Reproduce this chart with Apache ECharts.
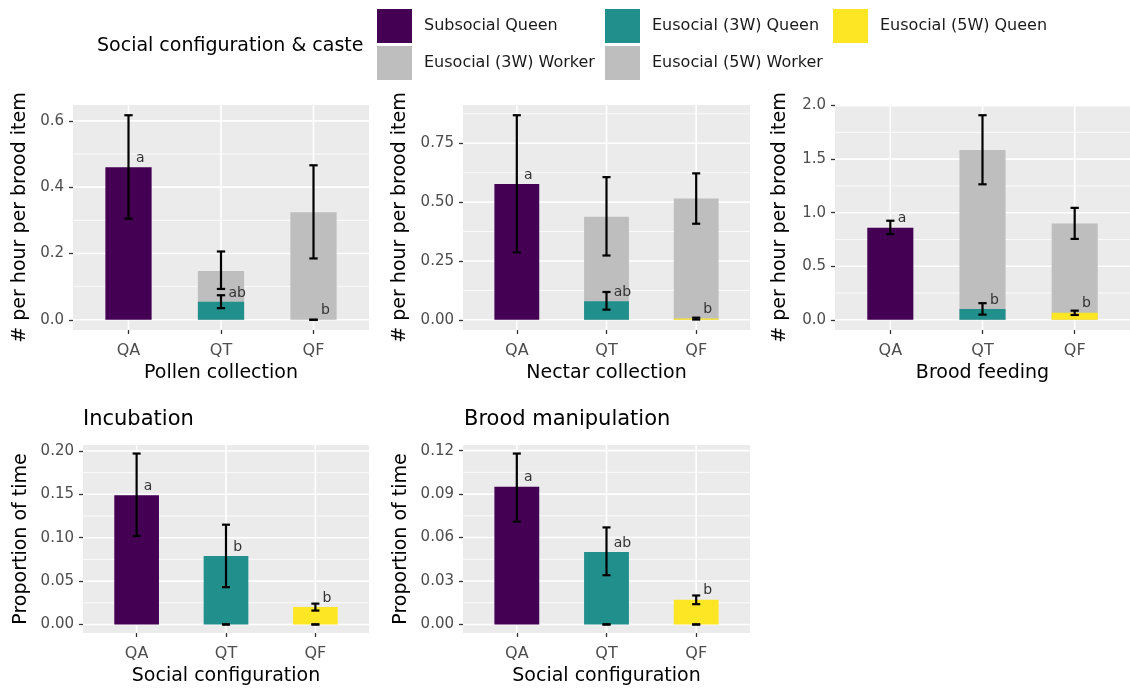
<!DOCTYPE html>
<html><head><meta charset="utf-8">
<script src="https://cdn.jsdelivr.net/npm/echarts@6/dist/echarts.min.js"></script>
<style>html,body{margin:0;padding:0;background:#fff}#c{width:1130px;height:688px}</style>
</head><body><div id="c"></div><script>
// ---------- data ----------
const categories = ['QA', 'QT', 'QF'];
const queenNames = ['Subsocial Queen', 'Eusocial (3W) Queen', 'Eusocial (5W) Queen'];
const workerNames = [null, 'Eusocial (3W) Worker', 'Eusocial (5W) Worker'];

// Pollen collection
const pollenQueen    = [0.460, 0.054, 0.000];
const pollenQueenLo  = [0.305, 0.035, 0.000];
const pollenQueenHi  = [0.617, 0.074, 0.000];
const pollenWorker   = [null, 0.147, 0.324];
const pollenWorkerLo = [null, 0.093, 0.185];
const pollenWorkerHi = [null, 0.206, 0.466];
const pollenLetters  = ['a', 'ab', 'b'];
const pollenTicks    = ['0.0', '0.2', '0.4', '0.6'];

// Nectar collection
const nectarQueen    = [0.577, 0.079, 0.005];
const nectarQueenLo  = [0.286, 0.043, 0.001];
const nectarQueenHi  = [0.869, 0.118, 0.009];
const nectarWorker   = [null, 0.438, 0.515];
const nectarWorkerLo = [null, 0.273, 0.408];
const nectarWorkerHi = [null, 0.606, 0.622];
const nectarLetters  = ['a', 'ab', 'b'];
const nectarTicks    = ['0.00', '0.25', '0.50', '0.75'];

// Brood feeding
const feedQueen    = [0.860, 0.100, 0.065];
const feedQueenLo  = [0.800, 0.048, 0.045];
const feedQueenHi  = [0.925, 0.155, 0.085];
const feedWorker   = [null, 1.585, 0.900];
const feedWorkerLo = [null, 1.265, 0.755];
const feedWorkerHi = [null, 1.910, 1.045];
const feedLetters  = ['a', 'b', 'b'];
const feedTicks    = ['0.0', '0.5', '1.0', '1.5', '2.0'];

// Incubation
const incQueen    = [0.149, 0.079, 0.020];
const incQueenLo  = [0.102, 0.043, 0.016];
const incQueenHi  = [0.197, 0.115, 0.024];
const incWorker   = [null, 0, 0];
const incWorkerLo = [null, 0, 0];
const incWorkerHi = [null, 0, 0];
const incLetters  = ['a', 'b', 'b'];
const incTicks    = ['0.00', '0.05', '0.10', '0.15', '0.20'];

// Brood manipulation
const manQueen    = [0.095, 0.050, 0.017];
const manQueenLo  = [0.071, 0.034, 0.014];
const manQueenHi  = [0.118, 0.067, 0.020];
const manWorker   = [null, 0, 0];
const manWorkerLo = [null, 0, 0];
const manWorkerHi = [null, 0, 0];
const manLetters  = ['a', 'ab', 'b'];
const manTicks    = ['0.00', '0.03', '0.06', '0.09', '0.12'];

// ---------- styling / layout ----------
const FONT = 'DejaVu Sans';
const queenColors = ['#440154', '#21908C', '#FDE725'];
const workerColor = '#BEBEBE';
const BAR_W = 0.5, CAP_W = 0.09;
const X_MIN = 0.4, X_MAX = 3.6;

const panels = [
  {xName: 'Pollen collection', yName: '# per hour per brood item', q: pollenQueen, qLo: pollenQueenLo, qHi: pollenQueenHi, w: pollenWorker, wLo: pollenWorkerLo, wHi: pollenWorkerHi, letters: pollenLetters, ticks: pollenTicks,
   grid: {left: 73, top: 105, width: 296, height: 225}, yGap: 43, xGap: 34},
  {xName: 'Nectar collection', yName: '# per hour per brood item', q: nectarQueen, qLo: nectarQueenLo, qHi: nectarQueenHi, w: nectarWorker, wLo: nectarWorkerLo, wHi: nectarWorkerHi, letters: nectarLetters, ticks: nectarTicks,
   grid: {left: 463, top: 105, width: 287, height: 225}, yGap: 53, xGap: 34},
  {xName: 'Brood feeding', yName: '# per hour per brood item', q: feedQueen, qLo: feedQueenLo, qHi: feedQueenHi, w: feedWorker, wLo: feedWorkerLo, wHi: feedWorkerHi, letters: feedLetters, ticks: feedTicks,
   grid: {left: 835, top: 105, width: 295, height: 225}, yGap: 45, xGap: 34},
  {xName: 'Social configuration', yName: 'Proportion of time', q: incQueen, qLo: incQueenLo, qHi: incQueenHi, w: incWorker, wLo: incWorkerLo, wHi: incWorkerHi, letters: incLetters, ticks: incTicks,
   grid: {left: 83, top: 445, width: 286, height: 188}, yGap: 52, xGap: 34},
  {xName: 'Social configuration', yName: 'Proportion of time', q: manQueen, qLo: manQueenLo, qHi: manQueenHi, w: manWorker, wLo: manWorkerLo, wHi: manWorkerHi, letters: manLetters, ticks: manTicks,
   grid: {left: 463, top: 445, width: 287, height: 188}, yGap: 52, xGap: 34}
];

const grids = [], xAxes = [], yAxes = [], series = [];

panels.forEach((p, pi) => {
  const hiMax = Math.max(...p.qHi.filter(v => v != null), ...p.wHi.filter(v => v != null));
  const yMin = -0.05 * hiMax, yMax = 1.05 * hiMax;
  const major = p.ticks.map(Number);
  const step = major[1] - major[0];
  const minor = [];
  for (let i = 0; i < major.length; i++) {
    const m = major[i] + step / 2;
    if (m <= yMax) minor.push(m);
  }
  grids.push(Object.assign({show: true, backgroundColor: '#EBEBEB', borderWidth: 0}, p.grid));
  xAxes.push({
    gridIndex: pi, type: 'value', min: X_MIN, max: X_MAX,
    name: p.xName, nameLocation: 'middle', nameGap: p.xGap,
    nameTextStyle: {fontSize: 19, color: '#000', fontFamily: FONT},
    axisLine: {show: false, onZero: false}, splitLine: {show: false},
    axisTick: {show: true, length: 4, lineStyle: {color: '#333', width: 1.3}, customValues: [1, 2, 3]},
    axisLabel: {customValues: [1, 2, 3], margin: 13, fontSize: 16, color: '#4D4D4D', fontFamily: FONT,
      formatter: v => categories[Math.round(v) - 1]}
  });
  yAxes.push({
    gridIndex: pi, type: 'value', min: yMin, max: yMax,
    name: p.yName, nameLocation: 'middle', nameGap: p.yGap,
    nameTextStyle: {fontSize: 19, color: '#000', fontFamily: FONT},
    axisLine: {show: false, onZero: false}, splitLine: {show: false},
    axisTick: {show: true, length: 4, lineStyle: {color: '#333', width: 1.3}, customValues: major},
    axisLabel: {customValues: major, margin: 9, fontSize: 15, color: '#4D4D4D', fontFamily: FONT,
      formatter: v => { const i = major.findIndex(m => Math.abs(m - v) < 1e-9); return i >= 0 ? p.ticks[i] : ''; }}
  });

  // gridlines (horizontal majors/minors, vertical at categories)
  const hData = major.map(v => [v, 1]).concat(minor.map(v => [v, 0]));
  series.push({
    type: 'custom', name: 'hgrid' + pi, xAxisIndex: pi, yAxisIndex: pi, z: 1, silent: true,
    data: hData,
    renderItem: (params, api) => {
      const v = api.value(0), isMajor = api.value(1);
      const a = api.coord([X_MIN, v]), b = api.coord([X_MAX, v]);
      return {type: 'line', shape: {x1: a[0], y1: a[1], x2: b[0], y2: b[1]},
        style: {stroke: '#FFFFFF', lineWidth: isMajor ? 1.6 : 0.8}};
    }
  });
  series.push({
    type: 'custom', name: 'vgrid' + pi, xAxisIndex: pi, yAxisIndex: pi, z: 1, silent: true,
    data: categories.map((c, i) => [i + 1]),
    renderItem: (params, api) => {
      const x = api.value(0);
      const a = api.coord([x, yMin]), b = api.coord([x, yMax]);
      return {type: 'line', shape: {x1: a[0], y1: a[1], x2: b[0], y2: b[1]},
        style: {stroke: '#FFFFFF', lineWidth: 1.6}};
    }
  });

  const barRender = (params, api) => {
    const x = api.value(0), v = api.value(1);
    const a = api.coord([x - BAR_W / 2, 0]);
    const b = api.coord([x + BAR_W / 2, v]);
    return {type: 'rect', shape: {x: a[0], y: Math.min(a[1], b[1]), width: b[0] - a[0], height: Math.abs(a[1] - b[1])},
      style: {fill: api.visual('color')}};
  };

  // worker bars (behind)
  categories.forEach((c, i) => {
    if (p.w[i] == null) return;
    series.push({
      type: 'custom', name: workerNames[i], xAxisIndex: pi, yAxisIndex: pi, z: 2,
      itemStyle: {color: workerColor},
      data: [[i + 1, p.w[i]]], renderItem: barRender
    });
  });
  // queen bars
  categories.forEach((c, i) => {
    series.push({
      type: 'custom', name: queenNames[i], xAxisIndex: pi, yAxisIndex: pi, z: 3,
      itemStyle: {color: queenColors[i]},
      data: [[i + 1, p.q[i]]], renderItem: barRender
    });
  });
  // error bars
  const errData = [];
  categories.forEach((c, i) => {
    if (p.w[i] != null) errData.push([i + 1, p.wLo[i], p.wHi[i]]);
    errData.push([i + 1, p.qLo[i], p.qHi[i]]);
  });
  series.push({
    type: 'custom', name: 'err' + pi, xAxisIndex: pi, yAxisIndex: pi, z: 4, silent: true,
    data: errData,
    renderItem: (params, api) => {
      const x = api.value(0), lo = api.value(1), hi = api.value(2);
      const pl = api.coord([x, lo]), ph = api.coord([x, hi]);
      const c1 = api.coord([x - CAP_W / 2, 0])[0], c2 = api.coord([x + CAP_W / 2, 0])[0];
      const st = {stroke: '#000', lineWidth: 2.2};
      return {type: 'group', children: [
        {type: 'line', shape: {x1: pl[0], y1: pl[1], x2: ph[0], y2: ph[1]}, style: st},
        {type: 'line', shape: {x1: c1, y1: pl[1], x2: c2, y2: pl[1]}, style: st},
        {type: 'line', shape: {x1: c1, y1: ph[1], x2: c2, y2: ph[1]}, style: st}
      ]};
    }
  });
  // significance letters
  series.push({
    type: 'custom', name: 'letters' + pi, xAxisIndex: pi, yAxisIndex: pi, z: 5, silent: true,
    data: categories.map((c, i) => [i + 1, p.q[i]]),
    renderItem: (params, api) => {
      const x = api.value(0), v = api.value(1);
      const pt = api.coord([x + 0.08, v]);
      return {type: 'text', x: pt[0], y: pt[1] - 2,
        style: {text: p.letters[params.dataIndex], fill: '#333', fontSize: 14, fontFamily: FONT,
          align: 'left', verticalAlign: 'bottom'}};
    }
  });
});

const legendBase = {orient: 'vertical', itemWidth: 35, itemHeight: 34, itemGap: 3, icon: 'rect',
  selectedMode: false, padding: 0, itemStyle: {borderWidth: 0},
  textStyle: {fontSize: 16, color: '#1a1a1a', fontFamily: FONT, padding: [0, 0, 0, 7]}};

const option = {
  animation: false,
  textStyle: {fontFamily: FONT},
  title: [
    {text: 'Social configuration & caste', left: 97, top: 37, padding: 0,
     textStyle: {fontSize: 19, fontWeight: 'normal', color: '#000', fontFamily: FONT}},
    {text: 'Incubation', left: 83, top: 409, padding: 0,
     textStyle: {fontSize: 21, fontWeight: 'normal', color: '#000', fontFamily: FONT}},
    {text: 'Brood manipulation', left: 464, top: 409, padding: 0,
     textStyle: {fontSize: 21, fontWeight: 'normal', color: '#000', fontFamily: FONT}}
  ],
  legend: [
    Object.assign({}, legendBase, {left: 377, top: 9, data: ['Subsocial Queen', 'Eusocial (3W) Worker']}),
    Object.assign({}, legendBase, {left: 605, top: 9, data: ['Eusocial (3W) Queen', 'Eusocial (5W) Worker']}),
    Object.assign({}, legendBase, {left: 833, top: 9, data: ['Eusocial (5W) Queen']})
  ],
  grid: grids, xAxis: xAxes, yAxis: yAxes, series: series
};

const chart = echarts.init(document.getElementById('c'), null, {renderer: 'canvas'});
chart.setOption(option);
</script></body></html>
